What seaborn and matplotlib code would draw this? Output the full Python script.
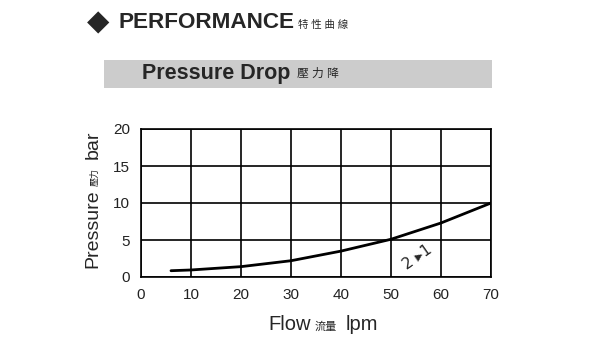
import matplotlib
matplotlib.use("Agg")
import matplotlib.pyplot as plt
import seaborn as sns
import pandas as pd
from matplotlib.patches import Rectangle

flow = [6, 10, 20, 30, 40, 50, 60, 70]
pressure = [0.85, 0.95, 1.4, 2.2, 3.5, 5.1, 7.3, 10.0]
x_ticks = [0, 10, 20, 30, 40, 50, 60, 70]
y_ticks = [0, 5, 10, 15, 20]

sns.set_style("white")
plt.rcParams['font.family'] = ['Liberation Sans', 'Noto Sans CJK TC', 'DejaVu Sans']

fig = plt.figure(figsize=(6, 3.5), dpi=100)
ax = fig.add_axes([141/600, 1-277/350, 350/600, 148/350])

df = pd.DataFrame({"flow": flow, "pressure": pressure})
sns.lineplot(data=df, x="flow", y="pressure", ax=ax, color="black", linewidth=2)

ax.set_xlim(0, 70)
ax.set_ylim(0, 20)
ax.set_xticks(x_ticks)
ax.set_yticks(y_ticks)
ax.grid(True, color="black", linewidth=1.2)
for s in ax.spines.values():
    s.set_color("black")
    s.set_linewidth(1.2)
ax.tick_params(labelsize=11, length=0, pad=8, colors="#222222")
ax.set_xlabel("")
ax.set_ylabel("")

mix = ['Liberation Sans', 'Noto Sans CJK TC']
# x label
fig.text(268/600, 1-325/350, "Flow", ha="left", va="center", fontsize=14.5)
fig.text(315/600, 1-327/350, "流量", ha="left", va="center", fontsize=8, family=mix)
fig.text(346/600, 1-325/350, "lpm", ha="left", va="center", fontsize=14.5)
# y label
fig.text(93/600, 1-229/350, "Pressure", ha="center", va="center", fontsize=14, rotation=90)
fig.text(95/600, 1-177/350, "壓力", ha="center", va="center", fontsize=6.5, rotation=90, family=mix)
fig.text(93/600, 1-145/350, "bar", ha="center", va="center", fontsize=14, rotation=90)

# annotation
ax.text(55.3, 2.7, "2 ▸1", fontsize=11, rotation=35, ha="center", va="center",
        family=['DejaVu Sans'])

# title
fig.text(87/600, 1-22/350, "◆", fontsize=21, ha="left", va="center", family=['DejaVu Sans'])
fig.text(119/600, 1-23/350, "PERFORMANCE", fontsize=16.2, fontweight="bold", ha="left", va="center")
fig.text(298/600, 1-25/350, "特 性 曲 線", fontsize=7.5, ha="left", va="center", family=mix)

# gray band
fig.patches.append(Rectangle((104/600, 1-88/350), 388/600, 28/350, transform=fig.transFigure,
                             facecolor="#cccccc", edgecolor="none", zorder=0))
fig.text(142/600, 1-74/350, "Pressure Drop", fontsize=15.5, fontweight="bold", ha="left", va="center")
fig.text(297/600, 1-74/350, "壓 力 降", fontsize=8.5, ha="left", va="center", family=mix)

fig.savefig("out.png", dpi=100)
